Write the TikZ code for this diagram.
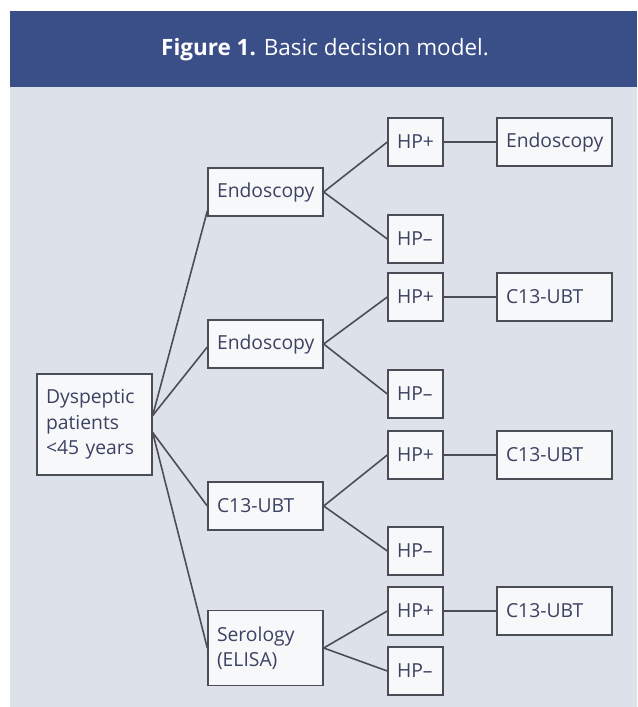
\documentclass[tikz,border=0pt]{standalone}
\usepackage{fontspec}
\setmainfont{Open Sans}
\definecolor{HeaderBlue}{HTML}{3A4E88}
\definecolor{PageTint}{HTML}{DDE1EA}
\definecolor{BoxFill}{HTML}{F7F8FA}
\definecolor{BoxLine}{HTML}{4A4D55}
\definecolor{BoxText}{HTML}{3B4262}

\begin{document}
\begin{tikzpicture}[x=0.02cm, y=-0.02cm,
        box/.style={draw=BoxLine, fill=BoxFill, text=BoxText, line width=0.8pt,
                    minimum height=0.96cm, text width=1.94cm, inner xsep=0.18cm, inner ysep=0pt,
                    align=left, font=\fontsize{11}{14.5}\selectfont},
        hpbox/.style={box, text width=0.74cm},
        link/.style={BoxLine, line width=0.9pt}
    ]
        \useasboundingbox (0,0) rectangle (637,707);
        \fill[PageTint] (10,87) rectangle (637,707);
        \fill[HeaderBlue] (10,11) rectangle (637,87);
        \node[text=white, font=\fontsize{12.8}{15}\selectfont] (title) at (325,50) {\textbf{Figure 1.} Basic decision model.};

        \node[box, minimum height=2.02cm] (root) at (94.5,424.5) {Dyspeptic\\patients\\<45 years};

        \node[box] (endoA) at (265.5,192) {Endoscopy};
        \node[box] (endoB) at (265.5,344) {Endoscopy};
        \node[box] (ubt) at (265.5,506) {C13-UBT};
        \node[box, minimum height=1.5cm] (sero) at (265.5,648) {Serology\\(ELISA)};

        \node[hpbox] (hpA) at (415.5,142) {HP+};
        \node[hpbox] (hmA) at (415.5,239) {HP–};
        \node[hpbox] (hpB) at (415.5,297) {HP+};
        \node[hpbox] (hmB) at (415.5,394) {HP–};
        \node[hpbox] (hpC) at (415.5,455) {HP+};
        \node[hpbox] (hmC) at (415.5,551) {HP–};
        \node[hpbox] (hpD) at (415.5,611) {HP+};
        \node[hpbox] (hmD) at (415.5,671) {HP–};

        \node[box] (nextA) at (554.5,142) {Endoscopy};
        \node[box] (nextB) at (554.5,297) {C13-UBT};
        \node[box] (nextC) at (554.5,455) {C13-UBT};
        \node[box] (nextD) at (554.5,611) {C13-UBT};

        \draw[link] ([yshift=0.18cm]root.east) -- ([yshift=-0.38cm]endoA.west);
        \draw[link] ([yshift=0.18cm]root.east) -- ([yshift=-0.06cm]endoB.west);
        \draw[link] ([yshift=-0.16cm]root.east) -- (ubt.west);
        \draw[link] ([yshift=-0.16cm]root.east) -- (sero.west);

        \draw[link] (endoA.east) -- (hpA.west);
        \draw[link] (endoA.east) -- (hmA.west);
        \draw[link] (endoB.east) -- (hpB.west);
        \draw[link] (endoB.east) -- (hmB.west);
        \draw[link] (ubt.east) -- (hpC.west);
        \draw[link] (ubt.east) -- (hmC.west);
        \draw[link] (sero.east) -- (hpD.west);
        \draw[link] (sero.east) -- (hmD.west);

        \draw[link] (hpA) -- (nextA);
        \draw[link] (hpB) -- (nextB);
        \draw[link] (hpC) -- (nextC);
        \draw[link] (hpD) -- (nextD);
    \end{tikzpicture}
\end{document}
